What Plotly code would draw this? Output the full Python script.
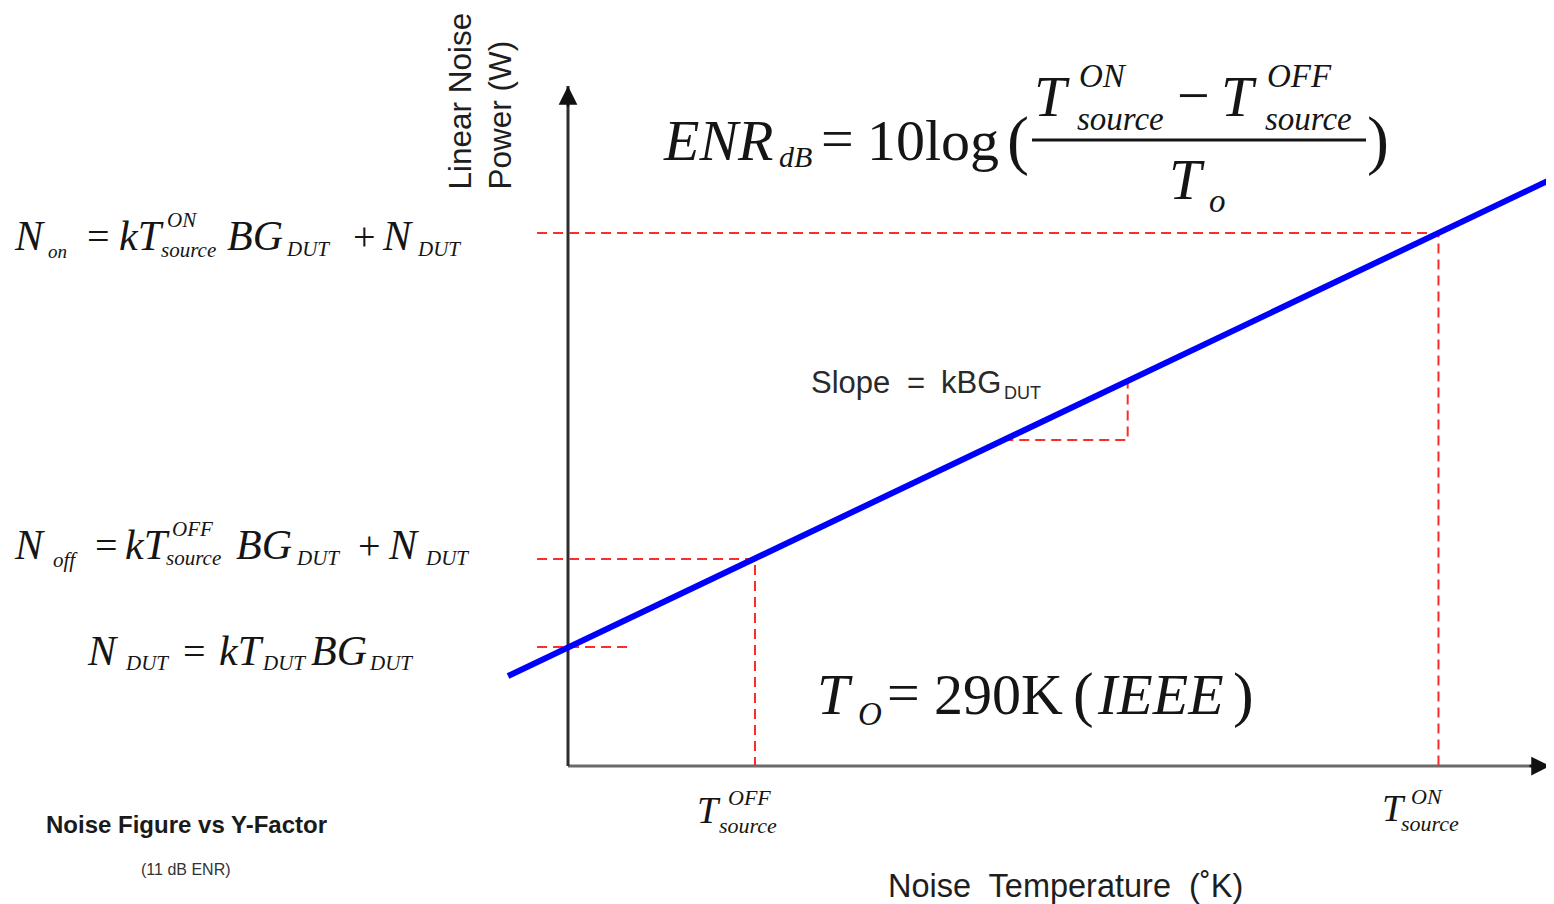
import plotly.graph_objects as go

# ---------------- data (schematic: temperature in K, noise power in arbitrary units) -------------
T_STATES = ["OFF", "ON"]
T_SOURCE = [290, 1350]          # T_source OFF / ON
N_SOURCE = [2.07, 5.33]         # N_off / N_on
N_DUT = 1.19                    # intercept N_DUT
LINE_T = [-93, 1529]            # blue characteristic line
LINE_N = [0.90, 5.88]
SLOPE_T = [675, 868]            # slope triangle
SLOPE_N = [3.26, 3.86]
DASH_START_T = -48
N_DUT_DASH_END_T = 99
AXIS_T_END = 1523
AXIS_N_END = 6.80

# ---------------- layout calibration -------------
W, H = 1554, 904
OFF = 8                          # page body margin offset
ORIGIN_PX = (568 - OFF, 766 - OFF)
X_PX_PER_UNIT = 0.6448
Y_PX_PER_UNIT = 100.0
x_range = [-ORIGIN_PX[0] / X_PX_PER_UNIT, (W - ORIGIN_PX[0]) / X_PX_PER_UNIT]
y_range = [(ORIGIN_PX[1] - H) / Y_PX_PER_UNIT, ORIGIN_PX[1] / Y_PX_PER_UNIT]

SERIF = "Liberation Serif"
SANS = "Liberation Sans"
INK = "#151515"

fig = go.Figure()

RED = "#ff2a2a"
DASH = "10px,6px"
for i, st in enumerate(T_STATES):
    fig.add_trace(go.Scatter(x=[DASH_START_T, T_SOURCE[i], T_SOURCE[i]],
                             y=[N_SOURCE[i], N_SOURCE[i], 0], mode="lines",
                             line=dict(color=RED, width=2, dash=DASH), hoverinfo="skip"))
fig.add_trace(go.Scatter(x=[DASH_START_T, N_DUT_DASH_END_T], y=[N_DUT, N_DUT], mode="lines",
                         line=dict(color=RED, width=2, dash=DASH), hoverinfo="skip"))
fig.add_trace(go.Scatter(x=[SLOPE_T[0], SLOPE_T[1], SLOPE_T[1]],
                         y=[SLOPE_N[0], SLOPE_N[0], SLOPE_N[1]], mode="lines",
                         line=dict(color=RED, width=2, dash=DASH), hoverinfo="skip"))
fig.add_trace(go.Scatter(x=LINE_T, y=LINE_N, mode="lines",
                         line=dict(color="#0000ff", width=6), hoverinfo="skip"))

# axes drawn as lines with arrowheads
fig.add_shape(type="line", xref="x", yref="y", x0=0, y0=0, x1=AXIS_T_END, y1=0,
              line=dict(color="#6a6a6a", width=3), layer="below")
fig.add_shape(type="line", xref="x", yref="y", x0=0, y0=0, x1=0, y1=AXIS_N_END,
              line=dict(color="#2e2e2e", width=3), layer="below")
fig.add_annotation(x=AXIS_T_END, y=0, xref="x", yref="y", ax=-22, ay=0, text="",
                   showarrow=True, arrowhead=2, arrowsize=1.5, arrowwidth=2.5, arrowcolor="#111")
fig.add_annotation(x=0, y=AXIS_N_END, xref="x", yref="y", ax=0, ay=22, text="",
                   showarrow=True, arrowhead=2, arrowsize=1.5, arrowwidth=2.5, arrowcolor="#111")


def txt(s, x, y, size, family=SERIF, italic=True, xanchor="left", yanchor="middle",
        color=INK, bold=False, angle=0, align="left"):
    fig.add_annotation(text=s, x=(x - OFF) / W, y=1 - (y - OFF) / H, xref="paper", yref="paper",
                       xanchor=xanchor, yanchor=yanchor, showarrow=False, textangle=angle,
                       align=align, borderpad=0,
                       font=dict(family=family, size=size, color=color,
                                 style="italic" if italic else "normal",
                                 weight="bold" if bold else "normal"))


def up(s, x, y, size, **kw):
    txt(s, x, y, size, italic=False, **kw)


# ---- N_on equation ----
M, S = 42, 21
yc = 236
txt("N", 13, yc, M); txt("on", 47, yc + 15, 19)
up("=", 86, yc, 40)
txt("kT", 118, yc, M); txt("ON", 166, yc - 16, S); txt("source", 160, yc + 14, S)
txt("BG", 226, yc, M); txt("DUT", 285, yc + 13, S)
up("+", 352, yc, 40)
txt("N", 381, yc, M); txt("DUT", 416, yc + 13, S)

# ---- N_off equation ----
yc = 545
txt("N", 13, yc, M); txt("off", 52, yc + 15, S)
up("=", 94, yc, 40)
txt("kT", 124, yc, M); txt("OFF", 171, yc - 16, S); txt("source", 165, yc + 13, S)
txt("BG", 235, yc, M); txt("DUT", 295, yc + 13, S)
up("+", 357, yc, 40)
txt("N", 387, yc, M); txt("DUT", 424, yc + 13, S)

# ---- N_DUT equation ----
yc = 651
txt("N", 86, yc, M); txt("DUT", 124, yc + 12, S)
up("=", 182, yc, 40)
txt("kT", 218, yc, M); txt("DUT", 261, yc + 12, S)
txt("BG", 310, yc, M); txt("DUT", 368, yc + 12, S)

# ---- ENR equation ----
B, BS = 58, 33
txt("ENR", 662, 140, B); txt("dB", 778, 156, 30)
up("=", 820, 138, B)
up("10log", 866, 140, B)
up("(", 1006, 140, 66)
txt("T", 1033, 97, B); txt("ON", 1078, 76, BS); txt("source", 1076, 119, BS)
up("\u2212", 1176, 95, 58)
txt("T", 1220, 97, B); txt("OFF", 1266, 76, BS); txt("source", 1264, 119, BS)
fig.add_shape(type="line", xref="paper", yref="paper", x0=(1032 - OFF) / W, x1=(1366 - OFF) / W,
              y0=1 - (140 - OFF) / H, y1=1 - (140 - OFF) / H, line=dict(color=INK, width=3))
txt("T", 1168, 180, B); txt("o", 1208, 201, BS)
up(")", 1366, 140, 66)

# ---- T_O = 290K (IEEE) ----
yc = 694
txt("T", 816, yc, B); txt("O", 857, yc + 20, BS)
up("=", 886, yc - 2, B)
up("290K", 933, yc, B)
up("(", 1072, yc, 62)
txt("IEEE", 1096, yc, B)
up(")", 1232, yc, 62)

# ---- slope label ----
SL = "#2a2a2a"
txt("Slope", 810, 383, 31, family=SANS, italic=False, color=SL)
txt("=", 906, 383, 31, family=SANS, italic=False, color=SL)
txt("kBG", 940, 383, 31, family=SANS, italic=False, color=SL)
txt("DUT", 1003, 393, 18, family=SANS, italic=False, color=SL)

# ---- x tick labels ----
txt("T", 696, 810, 38); txt("OFF", 727, 797, 22); txt("source", 718, 825, 22)
txt("T", 1381, 808, 38); txt("ON", 1410, 796, 22); txt("source", 1400, 823, 22)

# ---- axis titles ----
txt("Linear Noise<br>Power (W)", 480, 191, 31.5, family=SANS, italic=False, angle=-90,
    xanchor="center", yanchor="bottom", color="#1e1e1e")
txt("Noise  Temperature  (\u02daK)", 1065, 886, 32.5, family=SANS, italic=False,
    xanchor="center", color="#1e1e1e")

# ---- caption ----
txt("Noise Figure vs Y-Factor", 186, 824, 24, family=SANS, italic=False, bold=True,
    xanchor="center", color="#1a1a1a")
txt("(11 dB ENR)", 186, 869, 16, family=SANS, italic=False, xanchor="center", color="#333")

fig.update_layout(width=W, height=H, margin=dict(l=0, r=0, t=0, b=0),
                  paper_bgcolor="white", plot_bgcolor="white", showlegend=False,
                  xaxis=dict(range=x_range, visible=False, fixedrange=True),
                  yaxis=dict(range=y_range, visible=False, fixedrange=True))

fig.write_html("out.html", config={"displayModeBar": False})
